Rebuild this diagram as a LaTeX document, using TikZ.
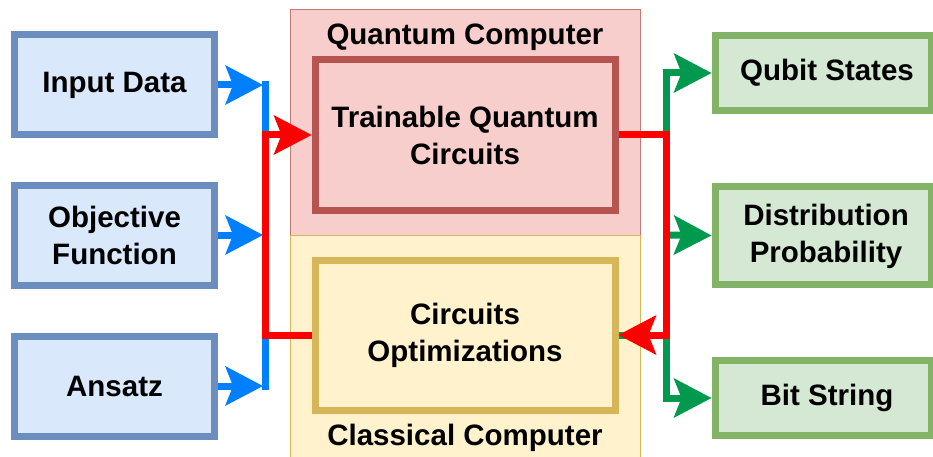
\documentclass[tikz,border=0pt]{standalone}
\usepackage{fontspec}
\setmainfont{Liberation Sans}
\usetikzlibrary{arrows.meta}
\definecolor{bfill}{HTML}{DAE8FC}
\definecolor{bline}{HTML}{6C8EBF}
\definecolor{gfill}{HTML}{D5E8D4}
\definecolor{gline}{HTML}{82B366}
\definecolor{rfill}{HTML}{F8CECC}
\definecolor{rline}{HTML}{B85450}
\definecolor{yfill}{HTML}{FFF2CC}
\definecolor{yline}{HTML}{D6B656}
\definecolor{ablue}{HTML}{007FFF}
\definecolor{ared}{HTML}{FF0000}
\definecolor{agreen}{HTML}{00994D}
\begin{document}
\begin{tikzpicture}[x=1pt,y=-1pt]
\tikzset{
  lbl/.style={font=\fontsize{29.5}{37}\selectfont\bfseries, align=center, inner sep=0pt},
  box/.style={lbl, draw, line width=7pt, minimum width=200pt, minimum height=100pt},
  inbox/.style={box, fill=bfill, draw=bline},
  outbox/.style={box, fill=gfill, draw=gline, minimum width=216pt},
  qbox/.style={box, fill=rfill, draw=rline, minimum width=300pt, minimum height=150pt},
  cbox/.style={box, fill=yfill, draw=yline, minimum width=300pt, minimum height=150pt},
  region/.style={line width=1pt, minimum width=350pt, inner sep=0pt},
  conn/.style={line width=7pt, line join=miter},
  tip/.style={-{Stealth[length=38pt,width=40pt,inset=8pt,line width=0pt]}},
}
\useasboundingbox (0,0) rectangle (933,457);
\clip (0,0) rectangle (933,457);
% regions
\node[region, fill=rfill, draw=rline!80!white, minimum height=225pt] (qreg) at (465,122.5) {};
\node[region, fill=yfill, draw=yline, minimum height=235pt] (creg) at (465,352.5) {};
\node[lbl, anchor=base] (qtitle) at (465,45) {Quantum Computer};
\node[lbl, anchor=base] (ctitle) at (465,445) {Classical Computer};
% boxes
\node[inbox] (in) at (114.5,85) {Input Data};
\node[inbox] (obj) at (114.5,235) {Objective\\Function};
\node[inbox] (ans) at (114.5,386) {Ansatz};
\node[qbox] (tr) at (465,135) {Trainable Quantum\\Circuits};
\node[cbox] (cir) at (465,335) {Circuits\\Optimizations};
\node[outbox] (qs) at (823,73) [minimum height=75pt] {};
\node[outbox] (dp) at (823,235.5) [minimum height=98pt] {};
\node[outbox] (bs) at (823,398) [minimum height=75pt] {};
\node[lbl] (qst) at (827,73) {Qubit States};
\node[lbl] (dpt) at (826,236.5) {Distribution\\Probability};
\node[lbl] (bst) at (827,398) {Bit String};
% coordinates
\coordinate (ain) at (263,85);
\coordinate (aobj) at (263,235);
\coordinate (aans) at (263,386);
\coordinate (lt) at (265,85);
\coordinate (lb) at (265,386);
\coordinate (l1) at (265,135);
\coordinate (l2) at (265,335);
\coordinate (r1) at (666,135);
\coordinate (r2) at (666,335);
\coordinate (gq) at (666,73);
\coordinate (gm) at (666,235);
\coordinate (gb) at (666,398);
% blue
\draw[conn, ablue, tip] (in.east) -- (ain);
\draw[conn, ablue, tip] (obj.east) -- (aobj);
\draw[conn, ablue, tip] (ans.east) -- (aans);
\draw[conn, ablue, line cap=rect] (lt) -- (l1);
\draw[conn, ablue, line cap=rect] (lb) -- (l2);
% green
\draw[conn, agreen, tip] (tr.east) -- (r1) -- (gq) -- (qs.west);
\draw[conn, agreen, tip] (gm) -- (dp.west);
\draw[conn, agreen, tip] (cir.east) -- (r2) -- (gb) -- (bs.west);
% red
\draw[conn, ared, tip] (cir.west) -- (l2) -- (l1) -- (tr.west);
\draw[conn, ared, tip] (tr.east) -- (r1) -- (r2) -- (cir.east);
\end{tikzpicture}
\end{document}
